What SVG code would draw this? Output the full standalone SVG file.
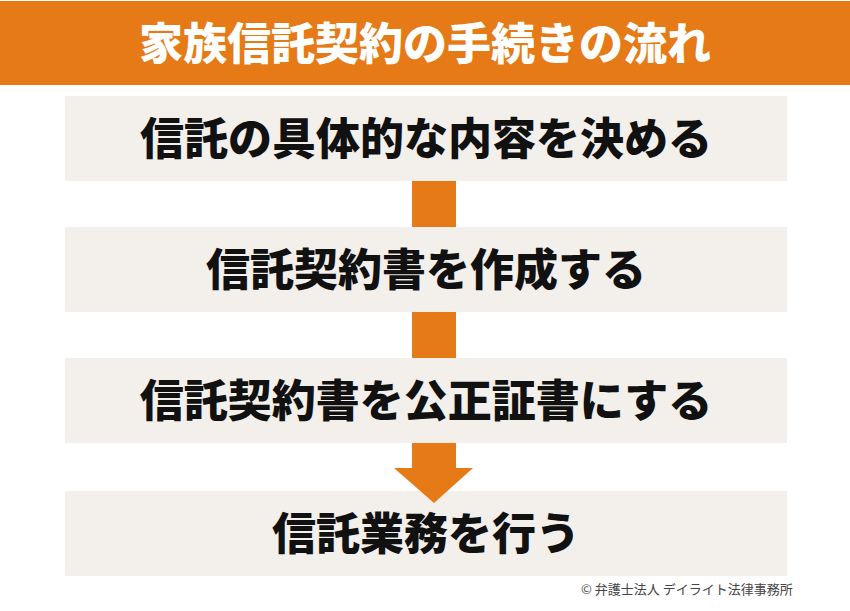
<svg xmlns="http://www.w3.org/2000/svg" width="850" height="611" viewBox="0 0 850 611">
<style>
.box{fill:#F3EFEA}
.or{fill:#E57A16}
.t{font-family:"Noto Sans CJK JP","Noto Sans",sans-serif;font-weight:900;font-size:44px;text-anchor:middle;fill:#111}
.title{fill:#fff}
.copy{font-family:"Noto Sans CJK JP","Noto Sans",sans-serif;font-size:13px;fill:#444}
</style>
<rect width="850" height="611" fill="#fff"/>
<g id="title">
<rect class="or" x="0" y="1" width="850" height="84"/>
<text class="t title" x="425" y="60">家族信託契約の手続きの流れ</text>
</g>
<g id="step1">
<rect class="box" x="65" y="96" width="722" height="85"/>
<text class="t" x="426" y="155">信託の具体的な内容を決める</text>
</g>
<g id="step2">
<rect class="box" x="65" y="227" width="722" height="85"/>
<text class="t" x="426" y="286">信託契約書を作成する</text>
</g>
<g id="step3">
<rect class="box" x="65" y="358" width="722" height="85"/>
<text class="t" x="426" y="417">信託契約書を公正証書にする</text>
</g>
<g id="step4">
<rect class="box" x="65" y="491" width="722" height="85"/>
<text class="t" x="426" y="550">信託業務を行う</text>
</g>
<g id="connectors">
<rect class="or" x="412" y="181" width="44" height="46"/>
<rect class="or" x="412" y="312" width="44" height="46"/>
<path class="or" d="M412,443 H456 V468 H473 L434,503 L394,468 H412 Z"/>
</g>
<text class="copy" x="581" y="594">© 弁護士法人 デイライト法律事務所</text>
</svg>
